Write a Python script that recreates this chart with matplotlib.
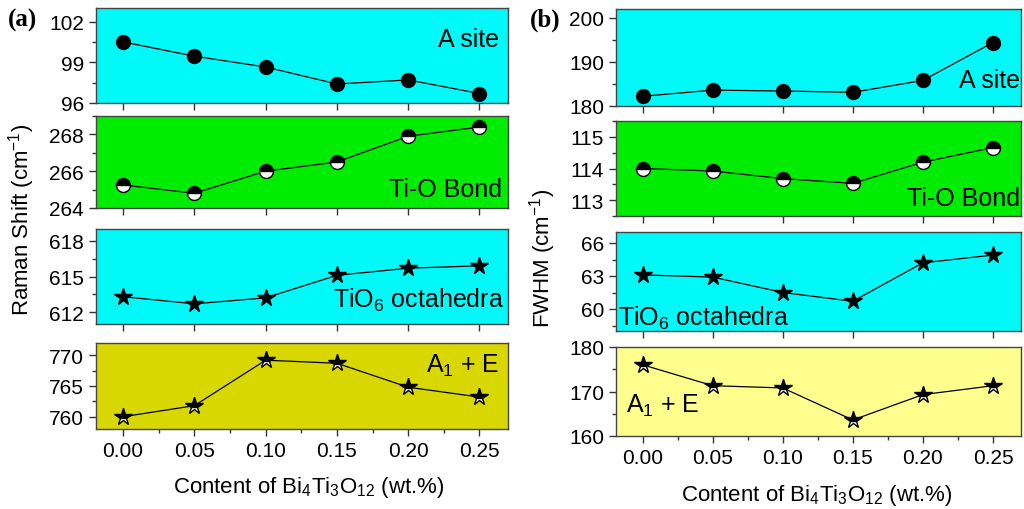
import matplotlib
matplotlib.use("Agg")
import matplotlib.pyplot as plt
from matplotlib.ticker import MultipleLocator

plt.rcParams['font.family'] = ['Liberation Sans', 'DejaVu Sans']
plt.rcParams['mathtext.fontset'] = 'custom'
plt.rcParams['mathtext.rm'] = 'Liberation Sans'
plt.rcParams['mathtext.it'] = 'Liberation Sans:italic'
plt.rcParams['mathtext.bf'] = 'Liberation Sans:bold'

# ---------------- data ----------------
content = [0.00, 0.05, 0.10, 0.15, 0.20, 0.25]
xtick_labels = ["0.00", "0.05", "0.10", "0.15", "0.20", "0.25"]

raman_asite = [100.5, 99.45, 98.65, 97.4, 97.7, 96.7]
raman_tio_bond = [265.25, 264.8, 266.0, 266.5, 267.9, 268.4]
raman_tio6 = [613.3, 612.7, 613.2, 615.1, 615.7, 615.9]
raman_a1e = [760.0, 761.8, 769.2, 768.7, 764.8, 763.2]

fwhm_asite = [182.2, 183.6, 183.4, 183.1, 185.8, 194.4]
fwhm_tio_bond = [114.0, 113.92, 113.68, 113.53, 114.2, 114.66]
fwhm_tio6 = [63.1, 62.9, 61.5, 60.7, 64.2, 64.9]
fwhm_a1e = [176.0, 171.3, 170.8, 163.6, 169.3, 171.3]

fig = plt.figure(figsize=(10.24, 5.10), dpi=100)
W, H = 1024.0, 510.0

def make_ax(x0, x1, y0, y1):
    return fig.add_axes([x0 / W, 1 - y1 / H, (x1 - x0) / W, (y1 - y0) / H])

cyan = "#00fafa"
green = "#00ec00"
olive = "#d8d800"
lyellow = "#ffff8e"

left_rows = [(9, 104), (117, 209), (230, 325), (344, 430)]
right_rows = [(10, 107), (122, 217), (233, 332), (348, 437)]

left_specs = [
    (raman_asite, cyan, (96, 103), 3, 1.5, 'o', 'A site', (0.978, 0.67, 'right')),
    (raman_tio_bond, green, (264, 269), 2, 1, 'oh', 'Ti-O Bond', (0.985, 0.21, 'right')),
    (raman_tio6, cyan, (611, 619), 3, 1.5, '*', r'TiO$_6$ octahedra', (0.99, 0.26, 'right')),
    (raman_a1e, olive, (758, 772), 5, 2.5, '*h', r'A$_1$ + E', (0.98, 0.75, 'right')),
]
right_specs = [
    (fwhm_asite, cyan, (180, 202), 10, 5, 'o', 'A site', (0.998, 0.27, 'right')),
    (fwhm_tio_bond, green, (112.5, 115.5), 1, 0.5, 'oh', 'Ti-O Bond', (0.998, 0.19, 'right')),
    (fwhm_tio6, cyan, (58, 67), 3, 1.5, '*', r'TiO$_6$ octahedra', (0.005, 0.14, 'left')),
    (fwhm_a1e, lyellow, (160, 180), 10, 5, '*h', r'A$_1$ + E', (0.025, 0.35, 'left')),
]

def draw_panel(x0, x1, rows, specs):
    axes = []
    for i, ((y0, y1), spec) in enumerate(zip(rows, specs)):
        vals, color, ylim, maj, mnr, mk, label, (tx, ty, ha) = spec
        ax = make_ax(x0, x1, y0, y1)
        ax.set_facecolor(color)
        if mk == 'o':
            ax.plot(content, vals, '-', color='black', lw=0.9, marker='o', ms=10,
                    mfc='black', mec='black')
        elif mk == 'oh':
            ax.plot(content, vals, '-', color='black', lw=0.9, marker='o', ms=10,
                    mfc='black', mfcalt='white', fillstyle='top', mec='black', mew=1)
        elif mk == '*':
            ax.plot(content, vals, '-', color='black', lw=0.9, marker='*', ms=13,
                    mfc='black', mec='black')
        else:
            ax.plot(content, vals, '-', color='black', lw=0.9, marker='*', ms=13,
                    mfc='black', mfcalt='white', fillstyle='top', mec='black', mew=1)
        ax.set_xlim(-0.019, 0.27)
        ax.set_ylim(*ylim)
        ax.yaxis.set_major_locator(MultipleLocator(maj))
        ax.yaxis.set_minor_locator(MultipleLocator(mnr))
        ax.set_xticks(content)
        ax.tick_params(axis='both', which='major', direction='out', length=5,
                       width=1, labelsize=15, color='#333333')
        ax.tick_params(axis='y', which='minor', direction='out', length=3,
                       width=1, color='#333333')
        if i == len(rows) - 1:
            ax.set_xticklabels(xtick_labels)
            ax.xaxis.set_minor_locator(MultipleLocator(0.025))
            ax.tick_params(axis='x', which='minor', direction='out', length=3,
                           width=1, color='#333333')
        else:
            ax.set_xticklabels([])
        for s in ax.spines.values():
            s.set_color('#444444')
            s.set_linewidth(1.0)
        ax.text(tx, ty, label, transform=ax.transAxes, ha=ha, va='center',
                fontsize=18, color='black')
        axes.append(ax)
    return axes

left_axes = draw_panel(96, 508, left_rows, left_specs)
right_axes = draw_panel(616, 1021, right_rows, right_specs)

xlabel = r'Content of Bi$_4$Ti$_3$O$_{12}$ (wt.%)'
fig.text(309 / W, 1 - 488 / H, xlabel, ha='center', va='center', fontsize=16)
fig.text(817 / W, 1 - 496 / H, xlabel, ha='center', va='center', fontsize=16)

fig.text(22 / W, 1 - 220 / H, r'Raman Shift (cm$^{-1}$)', rotation=90,
         ha='center', va='center', fontsize=16)
fig.text(543 / W, 1 - 258 / H, r'FWHM (cm$^{-1}$)', rotation=90,
         ha='center', va='center', fontsize=16)

fig.text(8 / W, 1 - 20 / H, '(a)', fontsize=18, fontweight='bold',
         family='Liberation Serif', ha='left', va='center')
fig.text(530 / W, 1 - 20 / H, '(b)', fontsize=18, fontweight='bold',
         family='Liberation Serif', ha='left', va='center')

fig.savefig('out.png', dpi=100)
